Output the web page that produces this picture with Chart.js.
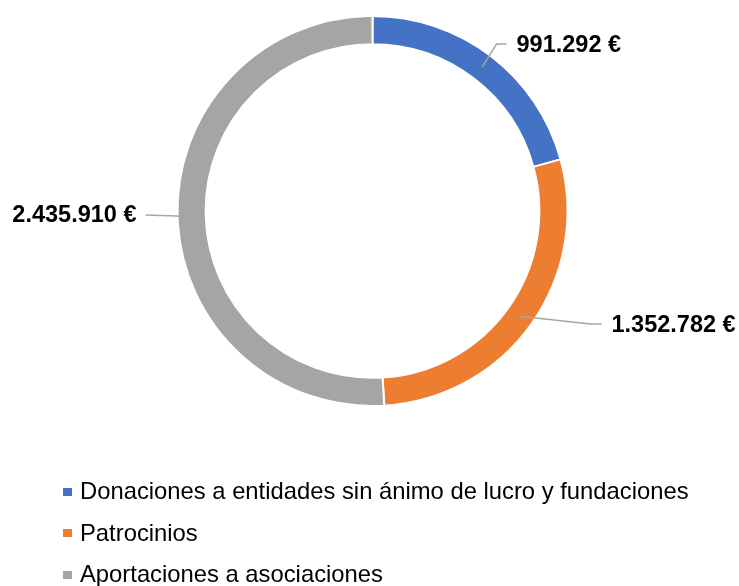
<!DOCTYPE html>
<html lang="es">
<head>
<meta charset="utf-8">
<title>Aportaciones</title>
<script src="https://cdn.jsdelivr.net/npm/chart.js@4/dist/chart.umd.min.js"></script>
<style>
  html, body { margin: 0; padding: 0; background: #fff; }
  #wrap { position: relative; width: 739px; height: 586px; }
  #chart { position: absolute; left: 0; top: 0; }
  #legend { position: absolute; left: 63px; top: 470px; margin: 0; padding: 0; list-style: none;
            font-family: "Liberation Sans", Arial, sans-serif; font-size: 23.8px; color: #000; }
  #legend li { height: 41.5px; line-height: 41.5px; white-space: nowrap; display: flex; align-items: center; }
  #legend .sw { display: inline-block; width: 9px; height: 8px; margin-right: 8px; position: relative; top: 1px; }
</style>
</head>
<body>
<div id="wrap">
  <canvas id="chart" width="739" height="586"></canvas>
  <ul id="legend"></ul>
</div>
<script>
// Categorías y valores (euros)
const categories = [
  'Donaciones a entidades sin ánimo de lucro y fundaciones',
  'Patrocinios',
  'Aportaciones a asociaciones'
];
const amounts = [991292, 1352782, 2435910];
const valueLabels = ['991.292 €', '1.352.782 €', '2.435.910 €'];

const colors = ['#4472C4', '#ED7D31', '#A5A5A5'];

// Placement of each value label relative to the chart centre: elbow of the leader line and text anchor
const labelLayout = [
  { elbow: [124, -167], end: [134, -167], text: [144, -165], align: 'left' },
  { elbow: [218, 113], end: [229, 113], text: [239, 115], align: 'left' },
  { elbow: [-227, 4], end: [-227, 4], text: [-236, 5], align: 'right' }
];

const leaderPlugin = {
  id: 'leaders',
  afterDatasetsDraw(chart) {
    const ctx = chart.ctx;
    const meta = chart.getDatasetMeta(0);
    ctx.save();
    meta.data.forEach((arc, i) => {
      const p = arc.getProps(['x', 'y', 'startAngle', 'endAngle', 'innerRadius', 'outerRadius'], true);
      const mid = (p.startAngle + p.endAngle) / 2;
      const r = (p.innerRadius + p.outerRadius) / 2;
      const sx = p.x + Math.cos(mid) * r;
      const sy = p.y + Math.sin(mid) * r;
      const L = labelLayout[i];
      ctx.strokeStyle = '#A6A6A6';
      ctx.lineWidth = 1.5;
      ctx.beginPath();
      ctx.moveTo(sx, sy);
      ctx.lineTo(p.x + L.elbow[0], p.y + L.elbow[1]);
      ctx.lineTo(p.x + L.end[0], p.y + L.end[1]);
      ctx.stroke();
      ctx.fillStyle = '#000';
      ctx.font = 'bold 23.5px "Liberation Sans", Arial, sans-serif';
      ctx.textAlign = L.align;
      ctx.textBaseline = 'middle';
      ctx.fillText(valueLabels[i], p.x + L.text[0], p.y + L.text[1]);
    });
    ctx.restore();
  }
};

new Chart(document.getElementById('chart'), {
  type: 'doughnut',
  data: {
    labels: categories,
    datasets: [{
      data: amounts,
      backgroundColor: colors,
      borderColor: '#FFFFFF',
      borderWidth: 2,
      hoverOffset: 0
    }]
  },
  options: {
    responsive: false,
    animation: false,
    radius: 195,
    cutout: 166,
    layout: { padding: { left: 6, right: 0, top: 16, bottom: 180 } },
    plugins: {
      legend: { display: false },
      tooltip: { enabled: false }
    }
  },
  plugins: [leaderPlugin]
});

// Leyenda
const legend = document.getElementById('legend');
categories.forEach((name, i) => {
  const li = document.createElement('li');
  const sw = document.createElement('span');
  sw.className = 'sw';
  sw.style.background = colors[i];
  li.appendChild(sw);
  li.appendChild(document.createTextNode(name));
  legend.appendChild(li);
});
</script>
</body>
</html>
